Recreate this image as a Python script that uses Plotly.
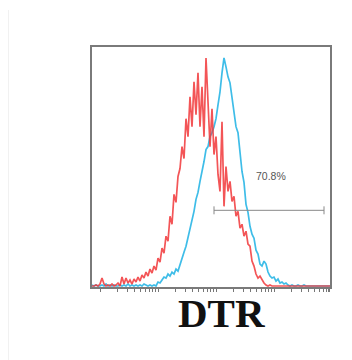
import math
import plotly.graph_objects as go

# Channel positions (bin centres) on the DTR axis
channels = list(range(0, 240, 2))

# Red histogram (control) counts per bin
red_counts = [
    0, 0, 1, 0, 2, 8, 2, 0, 1, 0,
    2, 0, 1, 3, 0, 9, 2, 8, 3, 6,
    2, 7, 4, 9, 5, 11, 8, 14, 10, 17,
    13, 20, 16, 28, 24, 38, 33, 50, 45, 70,
    62, 92, 84, 110, 118, 140, 128, 168, 150, 190,
    160, 205, 172, 214, 160, 200, 150, 229, 185, 140,
    178, 132, 150, 112, 95, 165, 80, 120, 95, 105,
    85, 90, 70, 75, 58, 62, 50, 55, 42, 40,
    25, 20, 12, 8, 10, 6, 3, 1, 0, 1,
    0, 0, 0, 0, 0, 0, 0, 0, 0, 0,
    0, 0, 0, 0, 0, 0, 0, 0, 0, 0,
    0, 0, 0, 0, 0, 0, 0, 0, 0, 0,
]

# Cyan histogram (DTR+) counts per bin
cyan_counts = [
    1, 0, 1, 0, 0, 1, 0, 2, 0, 1,
    0, 1, 0, 0, 1, 0, 1, 0, 2, 0,
    1, 0, 1, 0, 1, 0, 2, 1, 0, 1,
    0, 1, 0, 4, 3, 6, 9, 8, 12, 10,
    14, 12, 17, 15, 22, 28, 34, 40, 48, 57,
    66, 75, 87, 94, 105, 114, 125, 137, 140, 150,
    154, 160, 168, 182, 195, 214, 229, 220, 210, 204,
    190, 178, 160, 154, 130, 115, 104, 82, 74, 60,
    52, 48, 36, 32, 22, 20, 25, 22, 14, 10,
    8, 9, 5, 7, 3, 4, 2, 3, 1, 0,
    1, 0, 0, 1, 0, 0, 1, 0, 0, 0,
    0, 0, 0, 0, 0, 0, 0, 0, 0, 0,
]

gate_range = [122, 232]
gate_level = 76
gate_label = "70.8%"
axis_label = "DTR"

fig = go.Figure()
fig.add_trace(go.Scatter(x=channels, y=cyan_counts, mode="lines",
                         line=dict(color="#2ab6e6", width=1.7), opacity=0.9,
                         hoverinfo="skip"))
fig.add_trace(go.Scatter(x=channels, y=red_counts, mode="lines",
                         line=dict(color="#f2383a", width=1.7), opacity=0.85,
                         hoverinfo="skip"))

# gate bar
fig.add_shape(type="line", x0=gate_range[0], x1=gate_range[1], y0=gate_level, y1=gate_level,
              line=dict(color="#888888", width=1))
for gx in gate_range:
    fig.add_shape(type="line", x0=gx, x1=gx, y0=gate_level - 4, y1=gate_level + 4,
                  line=dict(color="#888888", width=1))
fig.add_annotation(x=(gate_range[0] + gate_range[1]) / 2 + 2, y=gate_level + 34, text=gate_label,
                   showarrow=False, font=dict(family="Arial, Liberation Sans", size=10.5, color="#555555"))

# axis label
fig.add_annotation(xref="paper", yref="paper", x=0.546, y=-0.108, text="<b>" + axis_label + "</b>",
                   showarrow=False, xanchor="center", yanchor="middle",
                   font=dict(family="Liberation Serif", size=41, color="#111111"))

# faint page edge line on the left
fig.add_shape(type="line", xref="paper", yref="paper", x0=-0.353, x1=-0.353, y0=1.154, y1=-0.32,
              line=dict(color="#e2e2e2", width=1))

# log-like tick marks on the bottom axis
decades = [8, 66, 124, 182]
tickvals = []
for d in decades:
    tickvals.append(d)
    for k in range(2, 10):
        tickvals.append(d + 58 * math.log10(k))
tickvals.append(236)

fig.update_layout(
    width=344, height=352,
    margin=dict(l=84, r=22, t=39, b=73),
    paper_bgcolor="white", plot_bgcolor="white",
    showlegend=False,
    xaxis=dict(range=[0, 238], showgrid=False, zeroline=False,
               showline=True, mirror=True, linecolor="#7a7a7a", linewidth=2,
               ticks="outside", tickvals=tickvals, ticklen=3, tickwidth=1,
               tickcolor="#777777", showticklabels=False),
    yaxis=dict(range=[-1, 240], showgrid=False, zeroline=False,
               showline=True, mirror=True, linecolor="#7a7a7a", linewidth=2,
               showticklabels=False, ticks=""),
)

fig.write_html("out.html")
